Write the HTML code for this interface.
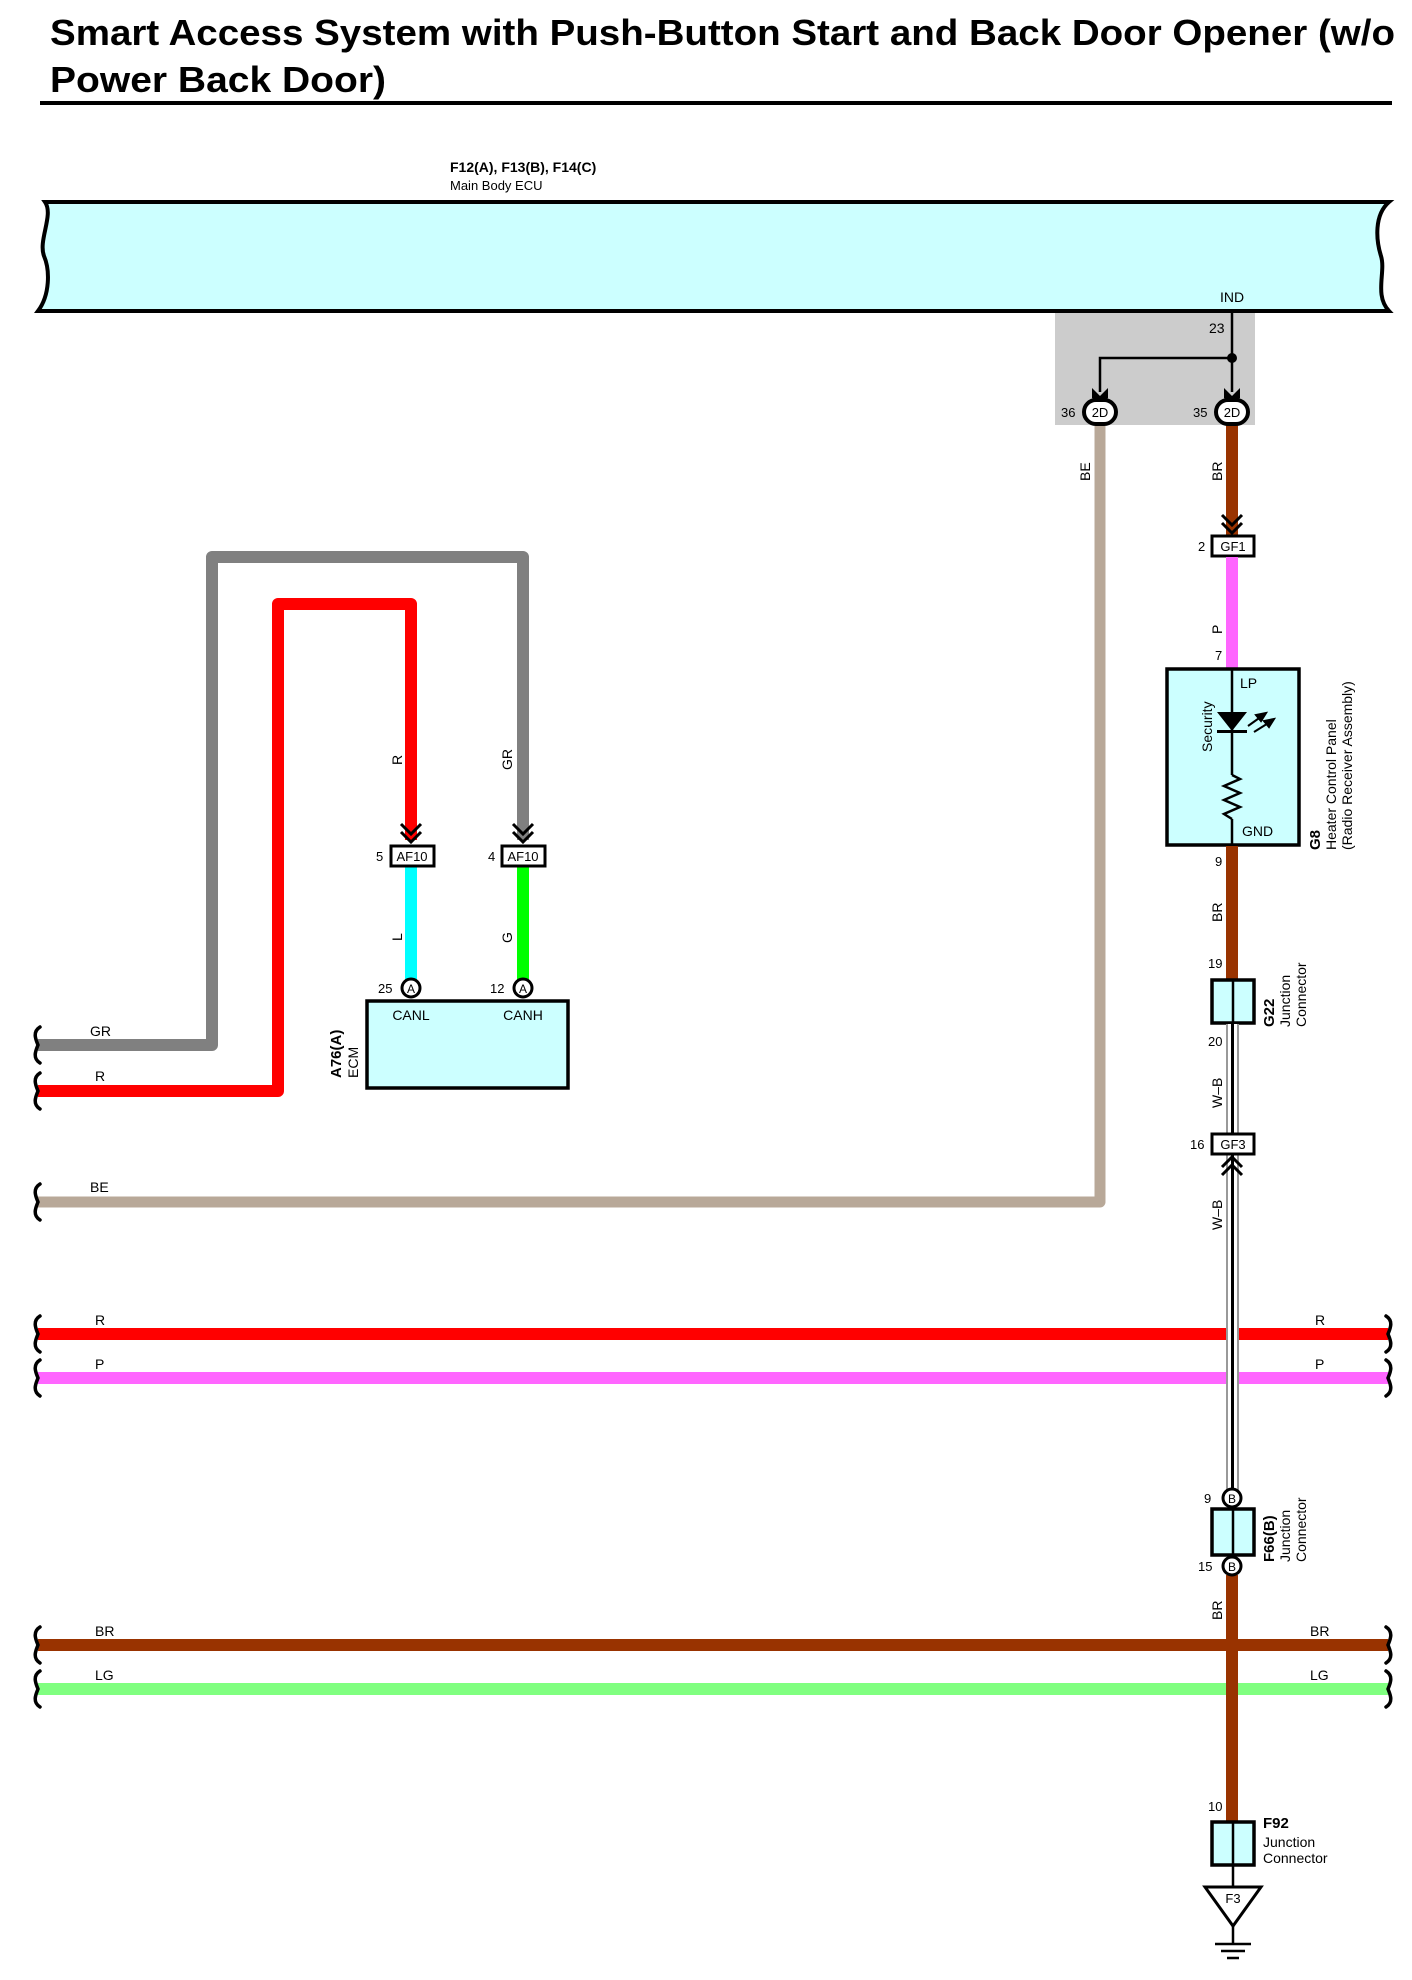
<!DOCTYPE html>
<html><head><meta charset="utf-8"><style>
html,body{margin:0;padding:0;background:#fff;}
svg{display:block;}
text{font-family:"Liberation Sans",Arial,sans-serif;}
</style></head><body>
<svg width="1412" height="1980" viewBox="0 0 1412 1980" xmlns="http://www.w3.org/2000/svg">
<!-- Title -->
<text x="50" y="45" font-size="36" font-weight="bold" fill="#000" textLength="1345" lengthAdjust="spacingAndGlyphs">Smart Access System with Push-Button Start and Back Door Opener (w/o</text>
<text x="50" y="92" font-size="36" font-weight="bold" fill="#000" textLength="336" lengthAdjust="spacingAndGlyphs">Power Back Door)</text>
<rect x="40" y="101" width="1352" height="4" fill="#000"/>

<!-- ECU -->
<text x="450" y="172" font-size="14" font-weight="bold">F12(A), F13(B), F14(C)</text>
<text x="450" y="190" font-size="13">Main Body ECU</text>
<rect x="1055" y="312" width="200" height="113" fill="#cccccc"/>
<path d="M45,202 L1389,202 C1374,215 1376,240 1381,256 C1386,272 1374,295 1389,311 L38,311 C50,295 50,270 44,256 C38,240 54,215 45,202 Z" fill="#ccffff" stroke="#000" stroke-width="4"/>
<text x="1220" y="302" font-size="14">IND</text>
<text x="1209" y="333" font-size="14">23</text>
<line x1="1232" y1="312" x2="1232" y2="392" stroke="#000" stroke-width="2.5"/>
<polyline points="1232,358 1100,358 1100,392" fill="none" stroke="#000" stroke-width="2.5"/>
<circle cx="1232" cy="358" r="5" fill="#000"/>
<g fill="#000">
<polygon points="1092,388 1100,396 1108,388 1108,398 1100,404 1092,398"/>
<polygon points="1224,388 1232,396 1240,388 1240,398 1232,404 1224,398"/>
</g>

<!-- BE wire -->
<polyline points="1100,412 1100,1202 38,1202" fill="none" stroke="#b8a898" stroke-width="11" stroke-linejoin="round"/>
<text transform="translate(1090,481) rotate(-90)" font-size="14">BE</text>
<text x="90" y="1192" font-size="14">BE</text>

<!-- BR to GF1 -->
<rect x="1226" y="412" width="12" height="124" fill="#993300"/>
<text transform="translate(1222,481) rotate(-90)" font-size="14">BR</text>
<g fill="none" stroke="#000" stroke-width="3">
<polyline points="1222,515 1232,525 1242,515"/><polyline points="1222,523 1232,533 1242,523"/>
</g>
<rect x="1212" y="536" width="42" height="20" fill="#fff" stroke="#000" stroke-width="3"/>
<text x="1233" y="551" font-size="13" text-anchor="middle">GF1</text>
<text x="1198" y="551" font-size="13">2</text>

<!-- 2D connectors -->
<g>
<rect x="1084" y="400" width="32" height="24" rx="12" fill="#fff" stroke="#000" stroke-width="4"/>
<text x="1100" y="417" font-size="13" text-anchor="middle">2D</text>
<rect x="1216" y="400" width="32" height="24" rx="12" fill="#fff" stroke="#000" stroke-width="4"/>
<text x="1232" y="417" font-size="13" text-anchor="middle">2D</text>
<text x="1061" y="417" font-size="13">36</text>
<text x="1193" y="417" font-size="13">35</text>
</g>

<!-- P to G8 -->
<rect x="1226" y="557" width="12" height="111" fill="#ff66ff"/>
<text transform="translate(1222,634) rotate(-90)" font-size="14">P</text>
<text x="1215" y="660" font-size="13">7</text>
<rect x="1167" y="669" width="132" height="176" fill="#ccffff" stroke="#000" stroke-width="3.5"/>
<line x1="1232" y1="669" x2="1232" y2="775" stroke="#000" stroke-width="2.5"/>
<line x1="1232" y1="819" x2="1232" y2="845" stroke="#000" stroke-width="2.5"/>
<polyline points="1232,775 1240,779 1224,786 1240,793 1224,800 1240,807 1224,814 1232,819" fill="none" stroke="#000" stroke-width="2.5"/>
<polygon points="1217,712 1247,712 1232,731" fill="#000"/>
<rect x="1217" y="730" width="30" height="3" fill="#000"/>
<g stroke="#000" stroke-width="2" fill="#000">
<line x1="1248" y1="726" x2="1262" y2="716"/><polygon points="1266,713 1256,715 1261,721"/>
<line x1="1254" y1="732" x2="1270" y2="722"/><polygon points="1274,719 1264,721 1269,727"/>
</g>
<text x="1240" y="688" font-size="14">LP</text>
<text x="1242" y="836" font-size="14">GND</text>
<text transform="translate(1212,752) rotate(-90)" font-size="14">Security</text>
<text transform="translate(1320,850) rotate(-90)" font-size="15" font-weight="bold">G8</text>
<text transform="translate(1336,850) rotate(-90)" font-size="14">Heater Control Panel</text>
<text transform="translate(1352,850) rotate(-90)" font-size="14">(Radio Receiver Assembly)</text>

<!-- BR to G22 -->
<text x="1215" y="866" font-size="13">9</text>
<rect x="1226" y="846" width="12" height="133" fill="#993300"/>
<text transform="translate(1222,922) rotate(-90)" font-size="14">BR</text>
<text x="1208" y="968" font-size="13">19</text>
<rect x="1212" y="980" width="42" height="43" fill="#ccffff" stroke="#000" stroke-width="3.5"/>
<line x1="1233" y1="980" x2="1233" y2="1023" stroke="#000" stroke-width="2.5"/>
<text transform="translate(1274,1027) rotate(-90)" font-size="15" font-weight="bold">G22</text>
<text transform="translate(1290,1027) rotate(-90)" font-size="14">Junction</text>
<text transform="translate(1306,1027) rotate(-90)" font-size="14">Connector</text>
<text x="1208" y="1046" font-size="13">20</text>

<!-- Horizontal wires R and P -->
<rect x="38" y="1328" width="1350" height="12" fill="#ff0000"/>
<rect x="38" y="1372" width="1350" height="12" fill="#ff66ff"/>
<text x="95" y="1325" font-size="14">R</text>
<text x="1315" y="1325" font-size="14">R</text>
<text x="95" y="1369" font-size="14">P</text>
<text x="1315" y="1369" font-size="14">P</text>

<!-- W-B wire -->
<rect x="1226" y="1024" width="13" height="110" fill="#999"/>
<rect x="1228" y="1024" width="9" height="110" fill="#fff"/>
<rect x="1231" y="1024" width="3" height="110" fill="#000"/>
<rect x="1226" y="1155" width="13" height="336" fill="#999"/>
<rect x="1228" y="1155" width="9" height="336" fill="#fff"/>
<rect x="1231" y="1155" width="3" height="336" fill="#000"/>
<text transform="translate(1222,1108) rotate(-90)" font-size="14">W–B</text>
<text transform="translate(1222,1230) rotate(-90)" font-size="14">W–B</text>
<rect x="1212" y="1134" width="42" height="20" fill="#fff" stroke="#000" stroke-width="3"/>
<text x="1233" y="1149" font-size="13" text-anchor="middle">GF3</text>
<text x="1190" y="1149" font-size="13">16</text>
<g fill="none" stroke="#000" stroke-width="3">
<polyline points="1222,1167 1232,1157 1242,1167"/><polyline points="1222,1175 1232,1165 1242,1175"/>
</g>

<!-- F66(B) -->
<circle cx="1232" cy="1498" r="9" fill="#fff" stroke="#000" stroke-width="3"/>
<text x="1232" y="1503" font-size="12" text-anchor="middle">B</text>
<text x="1204" y="1503" font-size="13">9</text>
<rect x="1212" y="1509" width="42" height="46" fill="#ccffff" stroke="#000" stroke-width="3.5"/>
<line x1="1233" y1="1509" x2="1233" y2="1555" stroke="#000" stroke-width="2.5"/>
<text transform="translate(1274,1562) rotate(-90)" font-size="15" font-weight="bold">F66(B)</text>
<text transform="translate(1290,1562) rotate(-90)" font-size="14">Junction</text>
<text transform="translate(1306,1562) rotate(-90)" font-size="14">Connector</text>

<!-- BR / LG horizontals -->
<rect x="38" y="1639" width="1350" height="12" fill="#993300"/>
<rect x="38" y="1683" width="1350" height="12" fill="#80ff80"/>
<text x="95" y="1636" font-size="14">BR</text>
<text x="1310" y="1636" font-size="14">BR</text>
<text x="95" y="1680" font-size="14">LG</text>
<text x="1310" y="1680" font-size="14">LG</text>

<!-- BR vertical to F92 -->
<rect x="1226" y="1575" width="12" height="246" fill="#993300"/>
<circle cx="1232" cy="1566" r="9" fill="#fff" stroke="#000" stroke-width="3"/>
<text x="1232" y="1571" font-size="12" text-anchor="middle">B</text>
<text x="1198" y="1571" font-size="13">15</text>
<text transform="translate(1222,1620) rotate(-90)" font-size="14">BR</text>
<text x="1208" y="1811" font-size="13">10</text>
<rect x="1212" y="1822" width="42" height="43" fill="#ccffff" stroke="#000" stroke-width="3.5"/>
<line x1="1233" y1="1822" x2="1233" y2="1865" stroke="#000" stroke-width="2.5"/>
<text x="1263" y="1828" font-size="15" font-weight="bold">F92</text>
<text x="1263" y="1847" font-size="14">Junction</text>
<text x="1263" y="1863" font-size="14">Connector</text>
<line x1="1233" y1="1865" x2="1233" y2="1887" stroke="#000" stroke-width="2.5"/>
<polygon points="1205,1887 1261,1887 1233,1926" fill="#fff" stroke="#000" stroke-width="3"/>
<text x="1233" y="1903" font-size="13" text-anchor="middle">F3</text>
<line x1="1233" y1="1926" x2="1233" y2="1943" stroke="#000" stroke-width="2.5"/>
<line x1="1215" y1="1944" x2="1251" y2="1944" stroke="#000" stroke-width="2.5"/>
<line x1="1221" y1="1951" x2="1245" y2="1951" stroke="#000" stroke-width="2.5"/>
<line x1="1227" y1="1958" x2="1239" y2="1958" stroke="#000" stroke-width="2.5"/>

<!-- Left CAN wires -->
<polyline points="38,1045 212,1045 212,557 523,557 523,840" fill="none" stroke="#808080" stroke-width="12" stroke-linejoin="round"/>
<polyline points="38,1091 278,1091 278,604 411,604 411,840" fill="none" stroke="#ff0000" stroke-width="12" stroke-linejoin="round"/>
<text x="90" y="1036" font-size="14">GR</text>
<text x="95" y="1081" font-size="14">R</text>
<text transform="translate(402,765) rotate(-90)" font-size="14">R</text>
<text transform="translate(512,770) rotate(-90)" font-size="14">GR</text>
<g fill="none" stroke="#000" stroke-width="3">
<polyline points="401,824 411,834 421,824"/><polyline points="401,832 411,842 421,832"/>
<polyline points="513,824 523,834 533,824"/><polyline points="513,832 523,842 533,832"/>
</g>
<rect x="405" y="867" width="12" height="113" fill="#00ffff"/>
<rect x="517" y="867" width="12" height="113" fill="#00ff00"/>
<rect x="391" y="846" width="43" height="20" fill="#fff" stroke="#000" stroke-width="3"/>
<text x="412" y="861" font-size="13" text-anchor="middle">AF10</text>
<rect x="502" y="846" width="43" height="20" fill="#fff" stroke="#000" stroke-width="3"/>
<text x="523" y="861" font-size="13" text-anchor="middle">AF10</text>
<text x="376" y="861" font-size="13">5</text>
<text x="488" y="861" font-size="13">4</text>
<text transform="translate(402,941) rotate(-90)" font-size="14">L</text>
<text transform="translate(512,943) rotate(-90)" font-size="14">G</text>
<rect x="367" y="1001" width="201" height="87" fill="#ccffff" stroke="#000" stroke-width="3.5"/>
<circle cx="411" cy="988" r="9" fill="#fff" stroke="#000" stroke-width="3"/>
<text x="411" y="993" font-size="12" text-anchor="middle">A</text>
<circle cx="523" cy="988" r="9" fill="#fff" stroke="#000" stroke-width="3"/>
<text x="523" y="993" font-size="12" text-anchor="middle">A</text>
<text x="378" y="993" font-size="13">25</text>
<text x="490" y="993" font-size="13">12</text>
<text x="411" y="1020" font-size="14" text-anchor="middle">CANL</text>
<text x="523" y="1020" font-size="14" text-anchor="middle">CANH</text>
<text transform="translate(341,1078) rotate(-90)" font-size="15" font-weight="bold">A76(A)</text>
<text transform="translate(358,1078) rotate(-90)" font-size="14">ECM</text>

<!-- Wire end brackets -->
<g fill="none" stroke="#000" stroke-width="3.5" stroke-linecap="round">
<path d="M40,1027 C32,1032 36,1040 38,1045 C36,1050 32,1058 40,1063"/>
<path d="M40,1073 C32,1078 36,1086 38,1091 C36,1096 32,1104 40,1109"/>
<path d="M40,1184 C32,1189 36,1197 38,1202 C36,1207 32,1215 40,1220"/>
<path d="M40,1316 C32,1321 36,1329 38,1334 C36,1339 32,1347 40,1352"/>
<path d="M40,1360 C32,1365 36,1373 38,1378 C36,1383 32,1391 40,1396"/>
<path d="M40,1627 C32,1632 36,1640 38,1645 C36,1650 32,1658 40,1663"/>
<path d="M40,1671 C32,1676 36,1684 38,1689 C36,1694 32,1702 40,1707"/>
<path d="M1386,1316 C1394,1321 1390,1329 1388,1334 C1390,1339 1394,1347 1386,1352"/>
<path d="M1386,1360 C1394,1365 1390,1373 1388,1378 C1390,1383 1394,1391 1386,1396"/>
<path d="M1386,1627 C1394,1632 1390,1640 1388,1645 C1390,1650 1394,1658 1386,1663"/>
<path d="M1386,1671 C1394,1676 1390,1684 1388,1689 C1390,1694 1394,1702 1386,1707"/>
</g>
</svg>
</body></html>
